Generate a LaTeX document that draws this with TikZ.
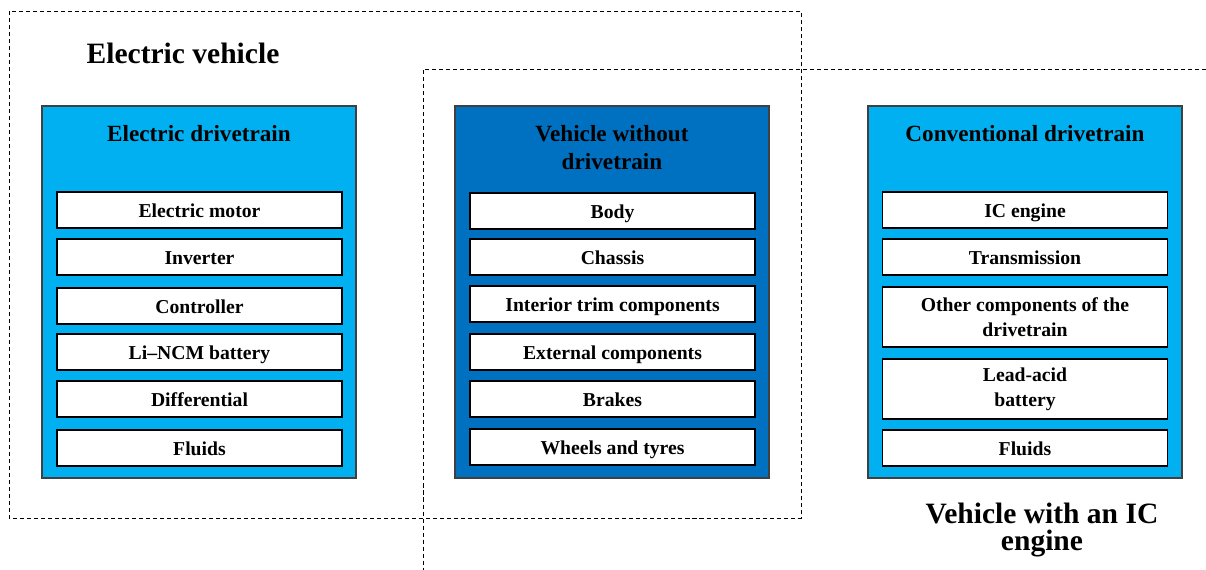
\documentclass[tikz,border=0pt]{standalone}
\usepackage{fontspec}
\setmainfont{Liberation Serif}
\definecolor{lightblue}{HTML}{00B0F0}
\definecolor{deepblue}{HTML}{0070C0}
\tikzset{
  groupbox/.style={draw=black!75,line width=0.8pt,minimum width=7.85cm,minimum height=9.3cm,inner sep=0pt},
  partbox/.style={draw=black,line width=1pt,fill=white,minimum width=7.125cm,minimum height=0.9cm,inner sep=0pt,align=center,text height=12.5pt,text depth=2.5pt,font=\fontsize{14}{17.8}\selectfont\bfseries},
  tallpart/.style={partbox,minimum height=1.5cm,text height={},text depth={}},
  headtext/.style={align=center,font=\fontsize{16.5}{19.9}\selectfont\bfseries},
  titletext/.style={align=center,font=\fontsize{21}{19.2}\selectfont\bfseries},
  groupframe/.style={line width=0.6pt,dash pattern=on 2.85pt off 2.13pt}
}
\begin{document}
\begin{tikzpicture}[x=0.025cm,y=-0.025cm]
  \useasboundingbox (0,0) rectangle (1206,570);
  % the two dashed groupings
  \draw[groupframe] (9,11) rectangle (801,518);
  \draw[groupframe] (1206,69) -- (423,69) -- (423,570);
  \node[titletext] (evtitle) at (183,53) {Electric vehicle};
  \node[titletext] (ictitle) at (1042,530) {Vehicle with an IC\\engine};
  % electric drivetrain
  \node[groupbox,fill=lightblue] (edrive) at (199,292) {};
  \node[headtext] (edrivehead) at (199,134) {Electric drivetrain};
  \node[partbox] (motor) at (199.5,210) {Electric motor};
  \node[partbox] (inverter) at (199.5,257) {Inverter};
  \node[partbox] (controller) at (199.5,306) {Controller};
  \node[partbox] (battery) at (199.5,352) {Li--NCM battery};
  \node[partbox] (differential) at (199.5,399) {Differential};
  \node[partbox] (efluids) at (199.5,448) {Fluids};
  % vehicle without drivetrain
  \node[groupbox,fill=deepblue] (glider) at (612,292) {};
  \node[headtext] (gliderhead) at (612,148) {Vehicle without\\drivetrain};
  \node[partbox] (body) at (612.5,211) {Body};
  \node[partbox] (chassis) at (612.5,257) {Chassis};
  \node[partbox] (interior) at (612.5,304) {Interior trim components};
  \node[partbox] (external) at (612.5,352) {External components};
  \node[partbox] (brakes) at (612.5,399) {Brakes};
  \node[partbox] (wheels) at (612.5,447) {Wheels and tyres};
  % conventional drivetrain
  \node[groupbox,fill=lightblue] (cdrive) at (1025,292) {};
  \node[headtext] (cdrivehead) at (1025,134) {Conventional drivetrain};
  \node[partbox] (engine) at (1025,210) {IC engine};
  \node[partbox] (transmission) at (1025,257) {Transmission};
  \node[tallpart] (otherparts) at (1025,317) {Other components of the\\drivetrain};
  \node[tallpart] (leadacid) at (1025,389) {Lead-acid\\battery};
  \node[partbox] (cfluids) at (1025,448) {Fluids};
\end{tikzpicture}
\end{document}
